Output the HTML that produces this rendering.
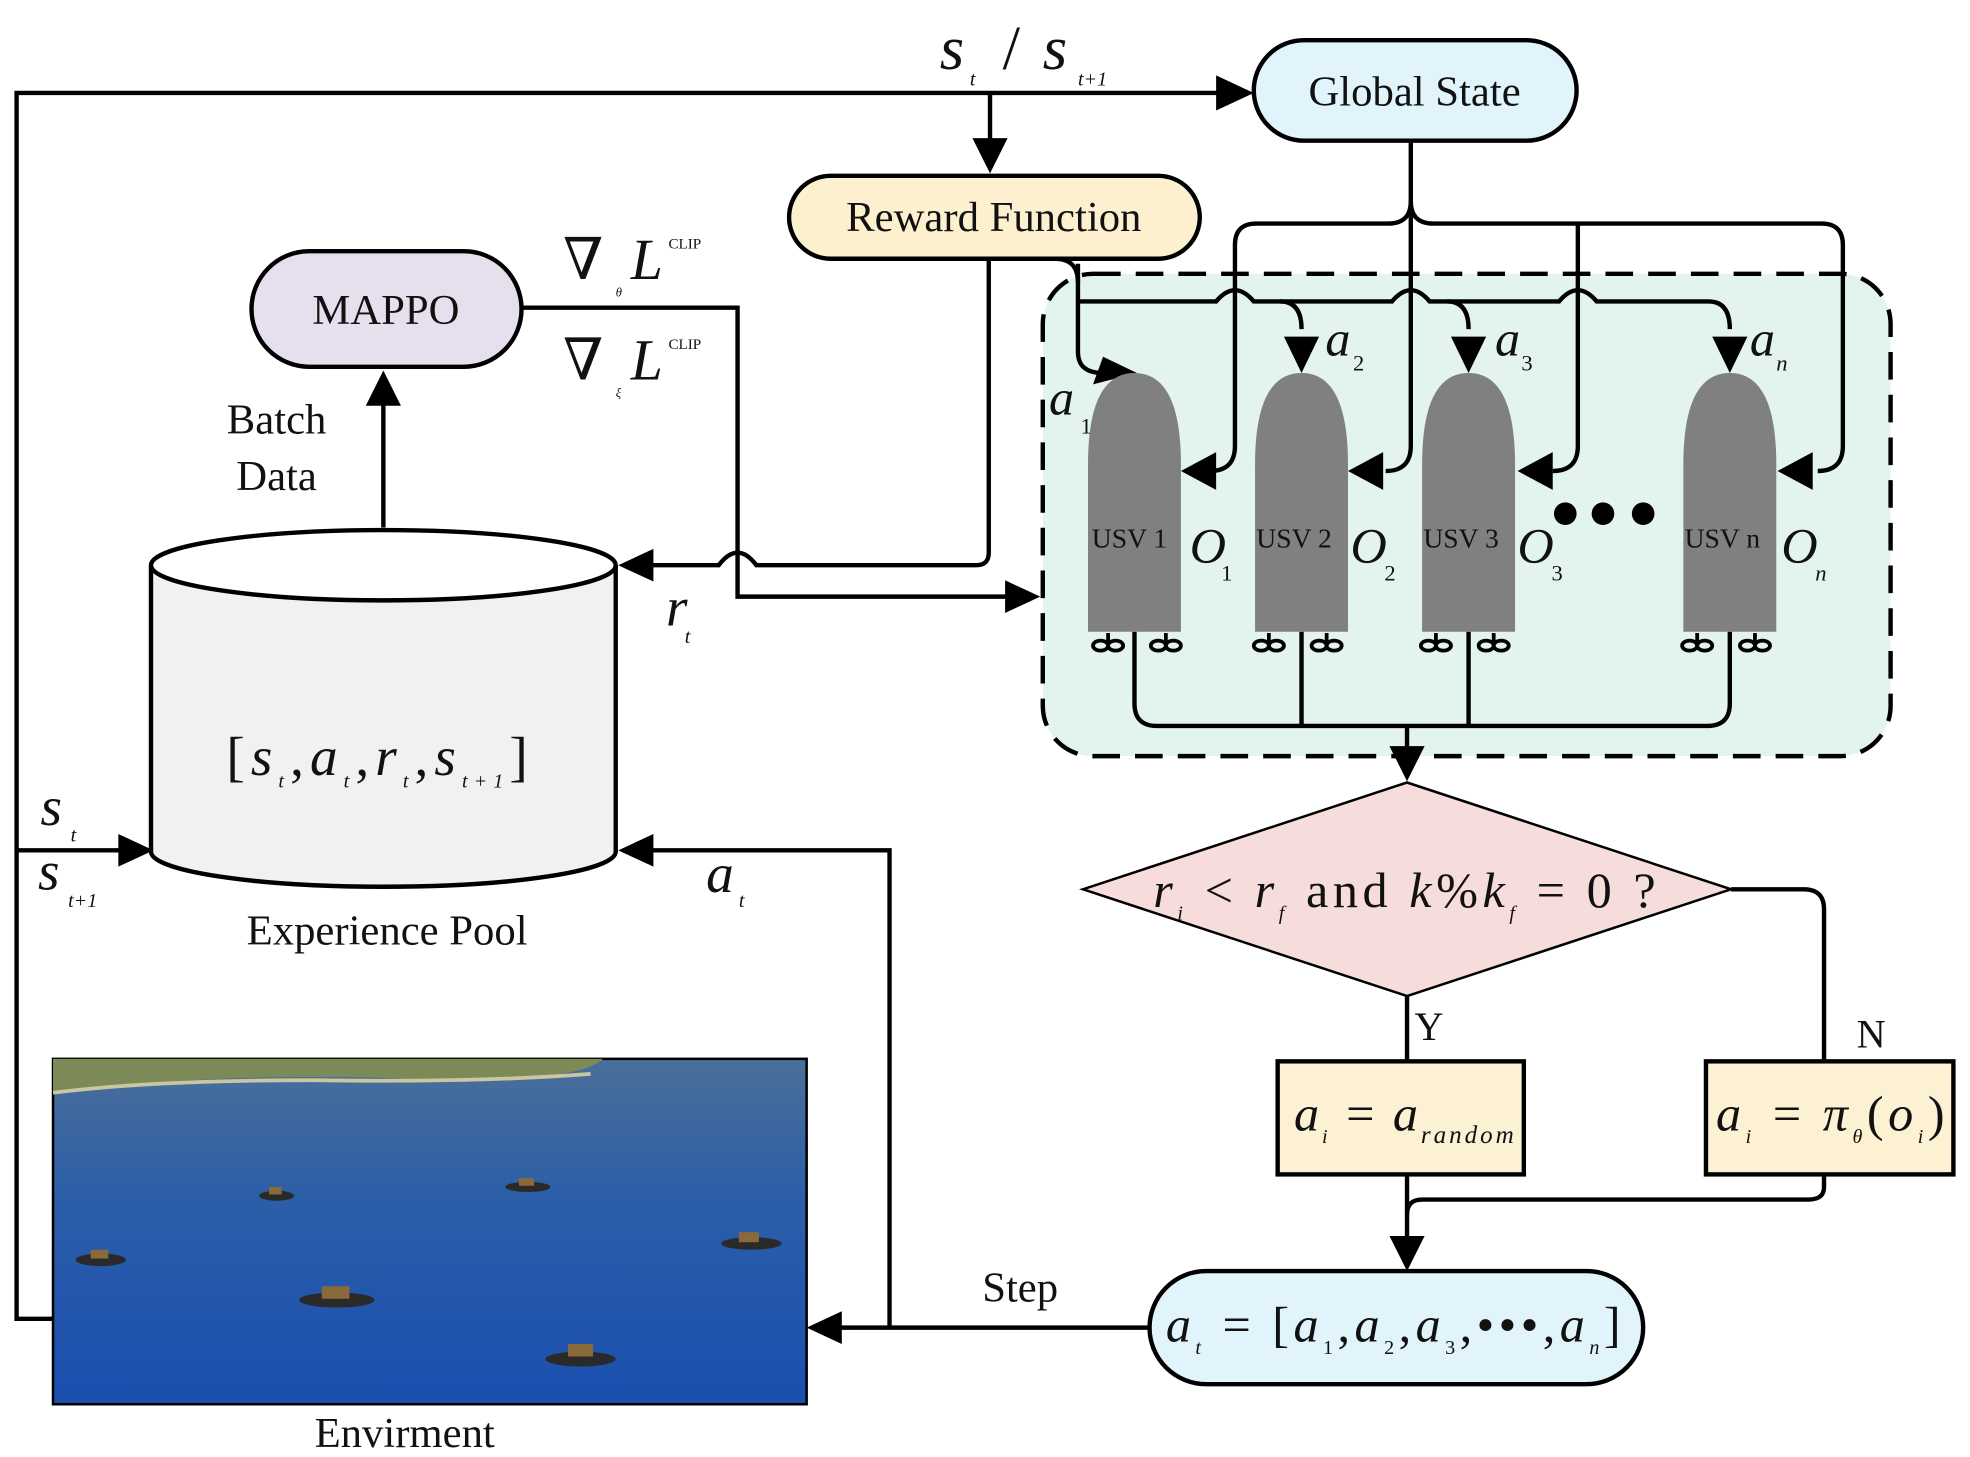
<!DOCTYPE html>
<html><head><meta charset="utf-8"><style>
html,body{margin:0;padding:0;background:#fff}
svg{display:block}
text{font-family:"Liberation Serif","DejaVu Serif",serif;fill:#111}
.it{font-style:italic}
</style></head><body>
<svg width="1970" height="1457" viewBox="0 0 1568 1160" xmlns="http://www.w3.org/2000/svg" font-family="Liberation Serif, serif">
<defs>
<linearGradient id="sea" x1="0" y1="0" x2="0" y2="1">
<stop offset="0" stop-color="#4a6f9a"/><stop offset="0.4" stop-color="#2c5ea8"/><stop offset="1" stop-color="#1a4fb0"/>
</linearGradient>
</defs>
<g fill="none" stroke="#000" stroke-width="3.5">
<rect x="830" y="218" width="675" height="384" rx="40" fill="#e3f4ec" stroke-dasharray="22,12"/>
<polyline points="42,1050 13,1050 13,74 975,74"/>
<line x1="788" y1="74" x2="788" y2="118"/>
<path d="M1123 112 V160 Q1123 178 1105 178 H1000 Q983 178 983 195 V355 Q983 375 963 375"/>
<path d="M1123 160 Q1123 178 1141 178 H1450 Q1467 178 1467 195 V355 Q1467 375 1447 375"/>
<path d="M1123 160 V355 Q1123 375 1103 375"/>
<path d="M1256 178 V355 Q1256 375 1236 375"/>
<path d="M858 210 Q858 212 858 215 V280 Q858 297 878 297"/>
<path d="M858 240 H968 Q983 222 998 240 H1108 Q1123 222 1138 240 H1241 Q1256 222 1271 240 H1360 Q1377 240 1377 262"/>
<path d="M1019 240 Q1036 240 1036 262"/>
<path d="M1152 240 Q1169 240 1169 262"/>
<path d="M840 206 Q858 206 858 225"/>
<path d="M903 503 V560 Q903 578 921 578 H1359 Q1377 578 1377 560 V503"/>
<line x1="1036" y1="503" x2="1036" y2="578"/>
<line x1="1169" y1="503" x2="1169" y2="578"/>
<line x1="1120" y1="578" x2="1120" y2="598"/>
<polyline points="415,245 587,245 587,475 805,475"/>
<path d="M787 206 V440 Q787 450 777 450 H602 Q587 430 572 450 H515"/>
<line x1="305" y1="420" x2="305" y2="318"/>
<line x1="1120" y1="793" x2="1120" y2="845"/>
<path d="M1378 708 H1436 Q1452 708 1452 724 V845"/>
<path d="M1452 935 V945 Q1452 955 1440 955 H1132 Q1120 955 1120 967"/>
<line x1="1120" y1="935" x2="1120" y2="990"/>
<line x1="915" y1="1057" x2="668" y2="1057"/>
<polyline points="708,1057 708,677 515,677"/>
<line x1="13" y1="677" x2="98" y2="677"/>
</g>
<g fill="#000">
<polygon points="998,74 968,60 968,88"/>
<polygon points="788,138 774,110 802,110"/>
<polygon points="305,295 291,323 319,323"/>
<polygon points="492,450 520,437 520,463"/>
<polygon points="492,677 520,664 520,690"/>
<polygon points="122,677 94,664 94,690"/>
<polygon points="828,475 800,462 800,488"/>
<polygon points="642,1057 670,1044 670,1070"/>
<polygon points="1120,622 1106,594 1134,594"/>
<polygon points="1120,1012 1106,984 1134,984"/>
<polygon points="905,297 878,284 870,306"/>
<polygon points="1036,297 1022,268 1050,268"/>
<polygon points="1169,297 1155,268 1183,268"/>
<polygon points="1377,297 1363,268 1391,268"/>
<polygon points="940,375 968,360 968,390"/>
<polygon points="1073,375 1101,360 1101,390"/>
<polygon points="1208,375 1236,360 1236,390"/>
<polygon points="1415,375 1443,360 1443,390"/>
</g>
<g fill="#808080">
<path d="M866 503 V370 Q866 297 903 297 Q940 297 940 370 V503 Z"/>
<path d="M999 503 V370 Q999 297 1036 297 Q1073 297 1073 370 V503 Z"/>
<path d="M1132 503 V370 Q1132 297 1169 297 Q1206 297 1206 370 V503 Z"/>
<path d="M1340 503 V370 Q1340 297 1377 297 Q1414 297 1414 370 V503 Z"/>
</g>
<g fill="none" stroke="#000" stroke-width="3">
<g id="pr"><ellipse cx="876" cy="514" rx="6" ry="4"/><ellipse cx="888" cy="514" rx="6" ry="4"/><line x1="882" y1="504" x2="882" y2="514"/></g>
<use href="#pr" x="46"/><use href="#pr" x="128"/><use href="#pr" x="174"/><use href="#pr" x="261"/><use href="#pr" x="307"/><use href="#pr" x="469"/><use href="#pr" x="515"/>
</g>
<g font-size="22"><text x="869" y="436">USV 1</text><text x="1000" y="436">USV 2</text><text x="1133" y="436">USV 3</text><text x="1341" y="436">USV n</text></g>
<g fill="#000"><circle cx="1246" cy="409" r="9"/><circle cx="1276" cy="409" r="9"/><circle cx="1308" cy="409" r="9"/></g>
<g class="it" font-size="40">
<text x="835" y="330">a</text><text x="1055" y="283">a</text><text x="1190" y="283">a</text><text x="1393" y="283">a</text>
<text x="947" y="448">O</text><text x="1075" y="448">O</text><text x="1208" y="448">O</text><text x="1418" y="448">O</text>
</g>
<g font-size="18"><text x="860" y="345">1</text><text x="1077" y="295">2</text><text x="1211" y="295">3</text><text x="1414" y="295" class="it">n</text>
<text x="972" y="462">1</text><text x="1102" y="462">2</text><text x="1235" y="462">3</text><text x="1445" y="462" class="it">n</text></g>
<rect x="998" y="32" width="257" height="80" rx="40" fill="#e1f3fb" stroke="#000" stroke-width="3.5"/>
<text x="1126" y="84" font-size="34" text-anchor="middle">Global State</text>
<rect x="628" y="140" width="327" height="66" rx="33" fill="#fdf0cf" stroke="#000" stroke-width="3.5"/>
<text x="791" y="184" font-size="34" text-anchor="middle">Reward Function</text>
<rect x="200" y="200" width="215" height="92" rx="46" fill="#e6e0ee" stroke="#000" stroke-width="3.5"/>
<text x="307" y="258" font-size="34" text-anchor="middle">MAPPO</text>
<text x="220" y="345" font-size="34" text-anchor="middle">Batch</text>
<text x="220" y="390" font-size="34" text-anchor="middle">Data</text>
<text x="448" y="222" font-size="46">∇</text><text x="502" y="222" font-size="46" class="it">L</text><text x="532" y="198" font-size="12">CLIP</text><text x="490" y="236" font-size="10" class="it">θ</text>
<text x="448" y="302" font-size="46">∇</text><text x="502" y="302" font-size="46" class="it">L</text><text x="532" y="278" font-size="12">CLIP</text><text x="490" y="316" font-size="10" class="it">ξ</text>
<text x="748" y="55" font-size="50" class="it">s</text><text x="772" y="68" font-size="16" class="it">t</text>
<text x="798" y="55" font-size="50">/</text>
<text x="830" y="55" font-size="50" class="it">s</text><text x="858" y="68" font-size="16" class="it">t+1</text>
<path d="M120 450 V678 A185 28 0 0 0 490 678 V450" fill="#f1f1f1" stroke="#000" stroke-width="3.5"/>
<ellipse cx="305" cy="450" rx="185" ry="28" fill="#fff" stroke="#000" stroke-width="3.5"/>
<text x="180" y="617" font-size="44" textLength="240" lengthAdjust="spacing">[<tspan class="it">s</tspan><tspan font-size="16" dy="10" class="it">t</tspan><tspan dy="-10">,</tspan><tspan class="it">a</tspan><tspan font-size="16" dy="10" class="it">t</tspan><tspan dy="-10">,</tspan><tspan class="it">r</tspan><tspan font-size="16" dy="10" class="it">t</tspan><tspan dy="-10">,</tspan><tspan class="it">s</tspan><tspan font-size="16" dy="10" class="it">t+1</tspan><tspan dy="-10">]</tspan></text>
<text x="308" y="752" font-size="34" text-anchor="middle">Experience Pool</text>
<text x="530" y="498" font-size="44" class="it">r</text><text x="545" y="512" font-size="16" class="it">t</text>
<text x="562" y="710" font-size="44" class="it">a</text><text x="588" y="722" font-size="16" class="it">t</text>
<text x="32" y="657" font-size="44" class="it">s</text><text x="56" y="670" font-size="16" class="it">t</text>
<text x="30" y="708" font-size="44" class="it">s</text><text x="54" y="722" font-size="16" class="it">t+1</text>
<polygon points="862,708 1120,623 1378,708 1120,793" fill="#f7dcdc" stroke="#000" stroke-width="2"/>
<text x="918" y="722" font-size="40" textLength="400" lengthAdjust="spacing"><tspan class="it">r</tspan><tspan font-size="16" dy="10" class="it">i</tspan><tspan dy="-10"> &lt; </tspan><tspan class="it">r</tspan><tspan font-size="16" dy="10" class="it">f</tspan><tspan dy="-10"> and </tspan><tspan class="it">k</tspan><tspan>%</tspan><tspan class="it">k</tspan><tspan font-size="16" dy="10" class="it">f</tspan><tspan dy="-10"> = 0 ?</tspan></text>
<text x="1126" y="828" font-size="32">Y</text>
<text x="1478" y="834" font-size="32">N</text>
<rect x="1017" y="845" width="196" height="90" fill="#fdf1d4" stroke="#000" stroke-width="3.5"/>
<text x="1030" y="900" font-size="40" textLength="175" lengthAdjust="spacing"><tspan class="it">a</tspan><tspan font-size="16" dy="10" class="it">i</tspan><tspan dy="-10"> = </tspan><tspan class="it">a</tspan><tspan font-size="20" dy="10" class="it">random</tspan></text>
<rect x="1358" y="845" width="197" height="90" fill="#fdf1d4" stroke="#000" stroke-width="3.5"/>
<text x="1366" y="900" font-size="40" textLength="182" lengthAdjust="spacing"><tspan class="it">a</tspan><tspan font-size="16" dy="10" class="it">i</tspan><tspan dy="-10"> = </tspan><tspan class="it">π</tspan><tspan font-size="16" dy="10" class="it">θ</tspan><tspan dy="-10">(</tspan><tspan class="it">o</tspan><tspan font-size="16" dy="10" class="it">i</tspan><tspan dy="-10">)</tspan></text>
<rect x="915" y="1012" width="393" height="90" rx="45" fill="#e1f3fb" stroke="#000" stroke-width="3.5"/>
<text x="928" y="1068" font-size="40" textLength="362" lengthAdjust="spacing"><tspan class="it">a</tspan><tspan font-size="16" dy="10" class="it">t</tspan><tspan dy="-10"> = [</tspan><tspan class="it">a</tspan><tspan font-size="16" dy="10">1</tspan><tspan dy="-10">,</tspan><tspan class="it">a</tspan><tspan font-size="16" dy="10">2</tspan><tspan dy="-10">,</tspan><tspan class="it">a</tspan><tspan font-size="16" dy="10">3</tspan><tspan dy="-10">,•••,</tspan><tspan class="it">a</tspan><tspan font-size="16" dy="10" class="it">n</tspan><tspan dy="-10">]</tspan></text>
<text x="812" y="1036" font-size="34" text-anchor="middle">Step</text>
<rect x="42" y="843" width="600" height="275" fill="url(#sea)" stroke="#000" stroke-width="2"/>
<path d="M42 843 H480 Q470 852 440 856 Q380 862 300 858 Q200 856 120 862 Q80 866 42 870 Z" fill="#7c8a58"/>
<path d="M42 870 Q120 860 250 860 Q380 862 470 855" stroke="#c9c6a0" stroke-width="3" fill="none"/>
<g fill="#2a2a2a">
<ellipse cx="80" cy="1003" rx="20" ry="5"/><ellipse cx="220" cy="952" rx="14" ry="4"/><ellipse cx="420" cy="945" rx="18" ry="4"/>
<ellipse cx="598" cy="990" rx="24" ry="5"/><ellipse cx="268" cy="1035" rx="30" ry="6"/><ellipse cx="462" cy="1082" rx="28" ry="6"/>
</g>
<g fill="#8a6a3a">
<rect x="72" y="995" width="14" height="7"/><rect x="214" y="945" width="10" height="6"/><rect x="413" y="938" width="12" height="6"/>
<rect x="588" y="981" width="16" height="8"/><rect x="256" y="1024" width="22" height="10"/><rect x="452" y="1070" width="20" height="10"/>
</g>
<text x="322" y="1152" font-size="34" text-anchor="middle">Envirment</text>
</svg>
</body></html>
